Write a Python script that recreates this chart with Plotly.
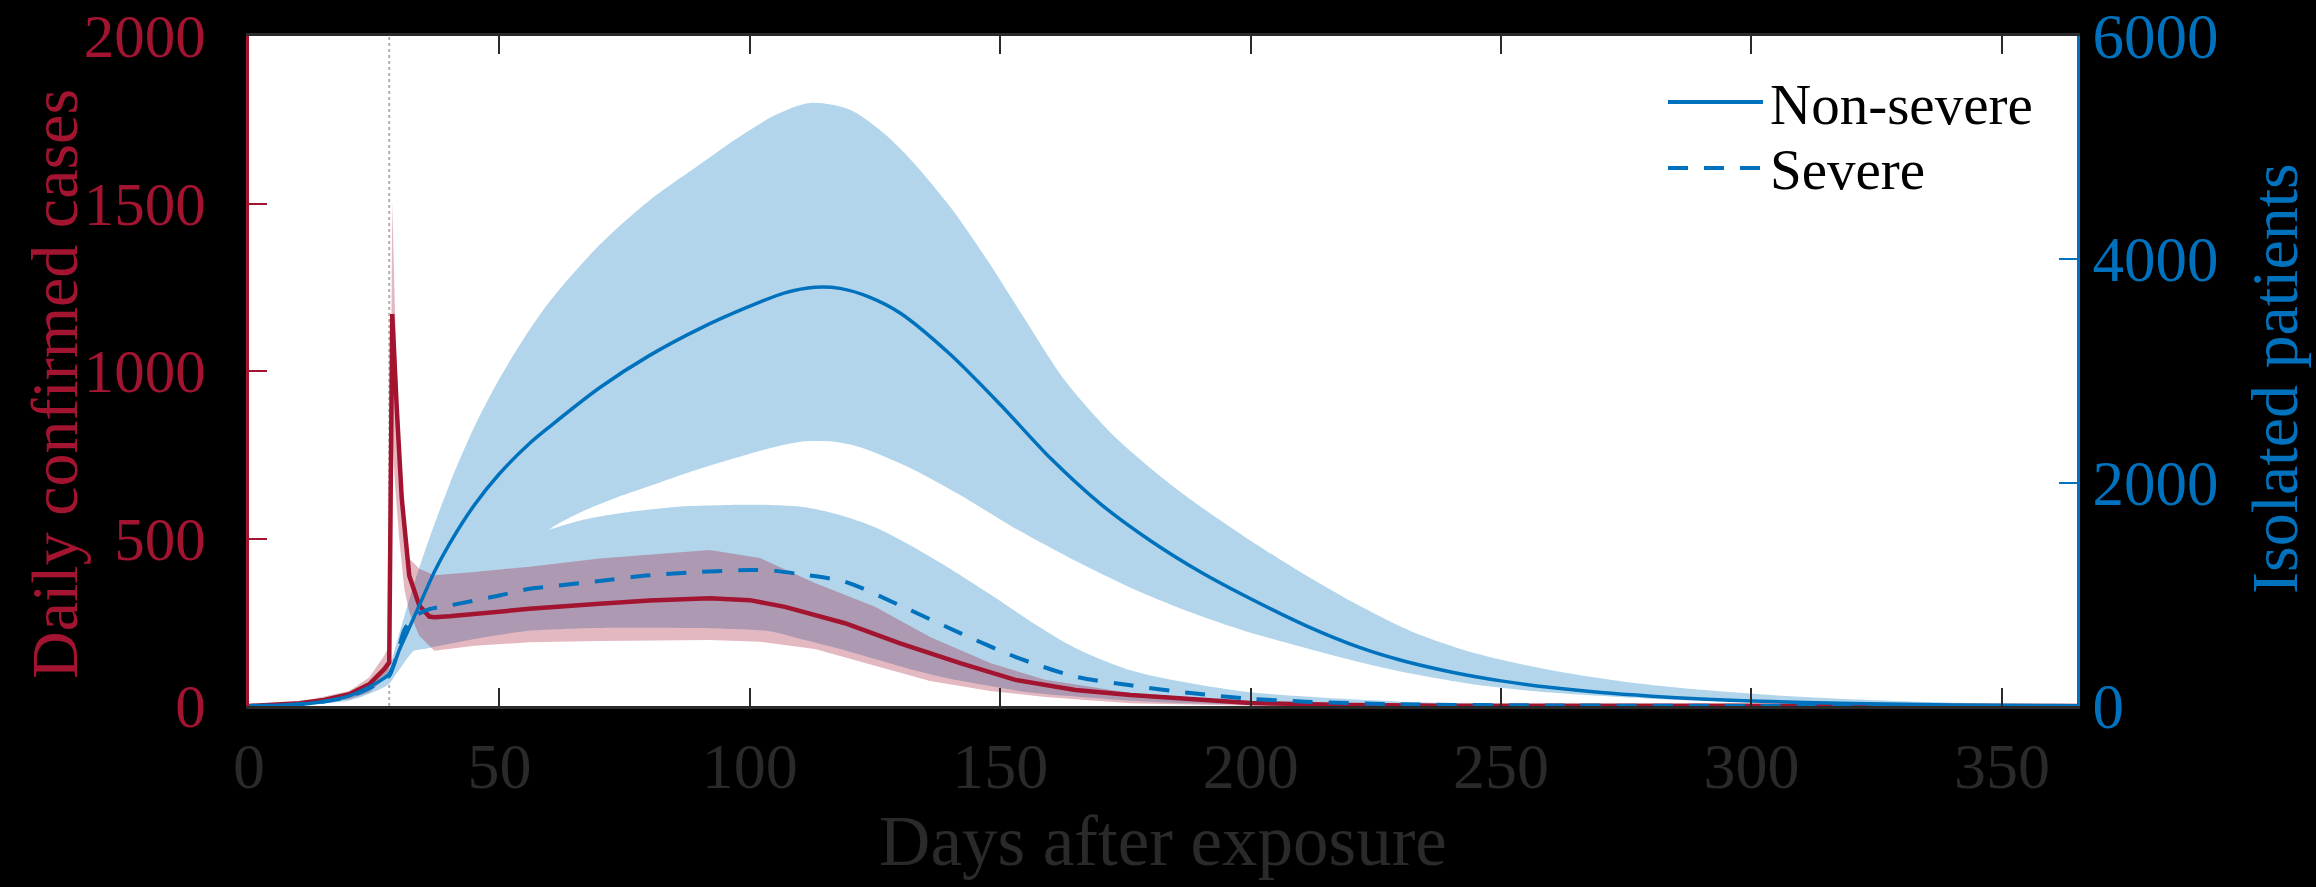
import plotly.graph_objects as go

# ---------------- data ----------------
# Daily confirmed cases (left axis)
red_days = [0, 5, 10, 15, 20, 24, 27, 28, 28.6, 29.5, 30.5, 32, 34, 36, 37, 40, 50, 56, 70, 80, 92,
            100, 107, 113, 119, 130, 142, 153, 165, 176, 188, 200, 220, 240, 365]
red_mean = [0, 3, 8, 18, 35, 65, 110, 130, 1170, 890, 620, 389, 300, 267, 265, 268, 282, 290, 305, 315, 322,
            316, 296, 272, 247, 187, 128, 78, 48, 33, 21, 9, 3, 1, 0]

red_band_days = [0, 10, 20, 24, 27, 28, 28.6, 29.2, 30, 31, 32, 34, 37, 45, 56, 70, 92, 102, 113, 125,
                 136, 148, 159, 176, 200, 220, 240, 365]
red_upper = [0, 12, 45, 85, 150, 180, 1505, 1150, 800, 550, 440, 410, 390, 400, 416, 440, 466, 442, 367, 296,
             206, 128, 78, 39, 13, 4, 1, 0]
red_lower = [0, 5, 20, 40, 80, 95, 800, 650, 500, 350, 280, 210, 165, 180, 190, 194, 197, 192, 170, 120,
             75, 45, 27, 8, 1, 0, 0, 0]

# Isolated patients, non-severe (right axis)
ns_days = [0, 10, 15, 20, 24, 27, 28, 29, 30, 32, 34, 37, 40, 45, 50, 56, 60, 70, 80, 90, 100, 107, 113,
           118, 124, 130, 140, 150, 160, 170, 180, 190, 200, 211, 222, 230, 240, 250, 260, 270, 280, 290,
           300, 320, 340, 365]
ns_mean = [0, 15, 40, 90, 170, 250, 285, 380, 500, 700, 900, 1200, 1450, 1800, 2080, 2350, 2500, 2850, 3140,
           3380, 3580, 3700, 3750, 3740, 3660, 3520, 3150, 2700, 2220, 1810, 1480, 1200, 960, 720, 520, 410,
           305, 225, 165, 120, 88, 63, 45, 22, 10, 3]

ns_upper_days = [0, 10, 20, 26, 28, 30, 33, 36, 40, 45, 50, 55, 60, 70, 80, 90, 98, 105, 112, 120, 127,
                 133, 140, 147, 155, 163, 172, 180, 188, 199, 211, 222, 232, 245, 260, 275, 290, 305, 320,
                 335, 350, 365]
ns_upper = [0, 25, 120, 260, 360, 650, 1100, 1500, 1980, 2500, 2930, 3300, 3620, 4130, 4530, 4850, 5100,
            5290, 5400, 5340, 5120, 4850, 4470, 4020, 3460, 2910, 2450, 2130, 1850, 1510, 1170, 890, 670,
            470, 320, 215, 145, 95, 60, 35, 20, 10]
ns_lower_days = [0, 10, 20, 28, 32, 36, 45, 55, 60, 66, 73, 80, 87, 94, 100, 106, 111, 116, 121, 126, 133,
                 142, 153, 165, 176, 188, 199, 211, 222, 232, 245, 260, 280, 300, 330, 365]
ns_lower = [0, 8, 60, 220, 450, 650, 1000, 1350, 1580, 1730, 1860, 1970, 2080, 2180, 2260, 2330, 2370,
            2370, 2330, 2250, 2110, 1890, 1590, 1300, 1060, 840, 670, 520, 390, 290, 190, 120, 65, 35, 12, 3]

# Isolated patients, severe (right axis)
s_days = [0, 10, 15, 20, 24, 27, 28, 29, 30, 31, 33, 36, 40, 50, 56, 60, 70, 80, 90, 100, 105, 110, 119,
          130, 142, 153, 165, 176, 188, 200, 211, 230, 260, 300, 365]
s_mean = [0, 15, 40, 85, 160, 240, 270, 380, 530, 680, 800, 867, 900, 990, 1050, 1070, 1120, 1170, 1200,
          1218, 1210, 1180, 1113, 900, 653, 440, 263, 185, 116, 65, 39, 15, 5, 1, 0]

s_band_days = [0, 10, 20, 24, 28, 30, 32, 36, 45, 55, 60, 66, 73, 80, 88, 96, 104, 111, 118, 125, 132,
               140, 148, 156, 165, 176, 188, 199, 211, 230, 260, 300, 365]
s_upper = [0, 20, 100, 190, 320, 600, 800, 1000, 1300, 1500, 1580, 1660, 1720, 1760, 1790, 1800, 1800,
           1780, 1710, 1600, 1440, 1230, 1000, 760, 520, 320, 203, 128, 84, 39, 12, 3, 0]
s_lower = [0, 10, 50, 110, 200, 350, 480, 520, 600, 670, 685, 695, 700, 700, 698, 690, 670, 590, 510, 420,
           330, 245, 180, 120, 84, 48, 24, 12, 6, 3, 1, 0, 0]

lockdown_day = 28

x_ticks = [0, 50, 100, 150, 200, 250, 300, 350]
left_ticks = [0, 500, 1000, 1500, 2000]
right_ticks = [0, 2000, 4000, 6000]

legend_names = ['Non-severe', 'Severe']

# ---------------- style ----------------
RED = '#A2142F'
BLUE = '#0072BD'
LIGHT_BLUE = 'rgb(178,213,235)'
RED_FILL = 'rgba(162,20,47,0.30)'
AX_GRAY = '#2a2a2a'
FONT = 'Liberation Serif'
DASH = '20px,16px'

W, H = 2316, 887
L, R, T, B = 249, 239, 36, 181
PW, PH = W - L - R, H - T - B


def px_x(p):
    return (p - L) / PW


def px_y(p):
    return (H - B - p) / PH


fig = go.Figure()

# blue bands (opaque light blue) on y (right scale)
fig.add_trace(go.Scatter(
    x=ns_upper_days + ns_lower_days[::-1], y=ns_upper + ns_lower[::-1],
    fill='toself', fillcolor=LIGHT_BLUE, line=dict(width=0, shape='spline', smoothing=0.8),
    mode='lines', hoverinfo='skip', showlegend=False, yaxis='y'))
fig.add_trace(go.Scatter(
    x=s_band_days + s_band_days[::-1], y=s_upper + s_lower[::-1],
    fill='toself', fillcolor=LIGHT_BLUE, line=dict(width=0, shape='spline', smoothing=0.8),
    mode='lines', hoverinfo='skip', showlegend=False, yaxis='y'))

# red band and red line on y2 (left scale)
fig.add_trace(go.Scatter(
    x=red_band_days + red_band_days[::-1], y=red_upper + red_lower[::-1],
    fill='toself', fillcolor=RED_FILL, line=dict(width=0),
    mode='lines', hoverinfo='skip', showlegend=False, yaxis='y2'))
fig.add_trace(go.Scatter(
    x=red_days, y=red_mean, mode='lines', line=dict(color=RED, width=4.5),
    showlegend=False, yaxis='y2'))

# blue lines on y3 (same scale as right axis, drawn on top)
fig.add_trace(go.Scatter(
    x=ns_days, y=ns_mean, mode='lines', name=legend_names[0], showlegend=False,
    line=dict(color=BLUE, width=3.5, shape='spline', smoothing=0.8), yaxis='y3'))
fig.add_trace(go.Scatter(
    x=s_days, y=s_mean, mode='lines', name=legend_names[1], showlegend=False,
    line=dict(color=BLUE, width=4, dash=DASH, shape='spline', smoothing=0.8), yaxis='y3'))

fig.add_shape(type='line', x0=lockdown_day, x1=lockdown_day, xref='x', yref='paper', y0=0, y1=1,
              line=dict(color='#b0b0b0', width=2, dash='dot'), layer='below')

# legend drawn by hand (long line samples as in the reference)
for name, dash, yy in [(legend_names[0], 'solid', 102), (legend_names[1], DASH, 168)]:
    fig.add_shape(type='line', xref='paper', yref='paper', x0=px_x(1668), x1=px_x(1763),
                  y0=px_y(yy), y1=px_y(yy), line=dict(color=BLUE, width=4, dash=dash))
    fig.add_annotation(xref='paper', yref='paper', x=px_x(1768), y=px_y(yy + 2), text=name,
                       showarrow=False, xanchor='left', yanchor='middle',
                       font=dict(family=FONT, size=57, color='black'))

# axis titles placed as in the reference
fig.add_annotation(xref='paper', yref='paper', x=px_x(54), y=px_y(384), text='Daily confirmed cases',
                   textangle=-90, showarrow=False, xanchor='center', yanchor='middle',
                   font=dict(family=FONT, size=66, color=RED))
fig.add_annotation(xref='paper', yref='paper', x=px_x(2274), y=px_y(379), text='Isolated patients',
                   textangle=-90, showarrow=False, xanchor='center', yanchor='middle',
                   font=dict(family=FONT, size=66, color=BLUE))

fig.update_layout(
    width=W, height=H,
    paper_bgcolor='black', plot_bgcolor='white',
    margin=dict(l=L, r=R, t=T, b=B, autoexpand=False),
    font=dict(family=FONT),
    showlegend=False,
    xaxis=dict(range=[0, 365], tickvals=x_ticks, ticks='inside', ticklen=18, tickwidth=2,
               tickcolor=AX_GRAY, showline=True, linecolor=AX_GRAY, linewidth=3, mirror='ticks',
               showgrid=False, zeroline=False, tickfont=dict(family=FONT, size=64, color=AX_GRAY),
               ticklabelstandoff=2,
               title=dict(text='Days after exposure', font=dict(family=FONT, size=71, color=AX_GRAY),
                          standoff=6)),
    yaxis=dict(side='right', range=[0, 6000], tickvals=right_ticks, ticks='inside', ticklen=18,
               tickwidth=2, tickcolor=BLUE, showline=True, linecolor=BLUE, linewidth=3,
               showgrid=False, zeroline=False, tickfont=dict(family=FONT, size=63, color=BLUE),
               ticklabelstandoff=0),
    yaxis2=dict(side='left', overlaying='y', range=[0, 2000], tickvals=left_ticks, ticks='inside',
                ticklen=18, tickwidth=2, tickcolor=RED, showline=True, linecolor=RED, linewidth=3,
                showgrid=False, zeroline=False, tickfont=dict(family=FONT, size=61, color=RED),
                ticklabelstandoff=28),
    yaxis3=dict(overlaying='y', range=[0, 6000], visible=False),
)

fig.write_html('out.html')
